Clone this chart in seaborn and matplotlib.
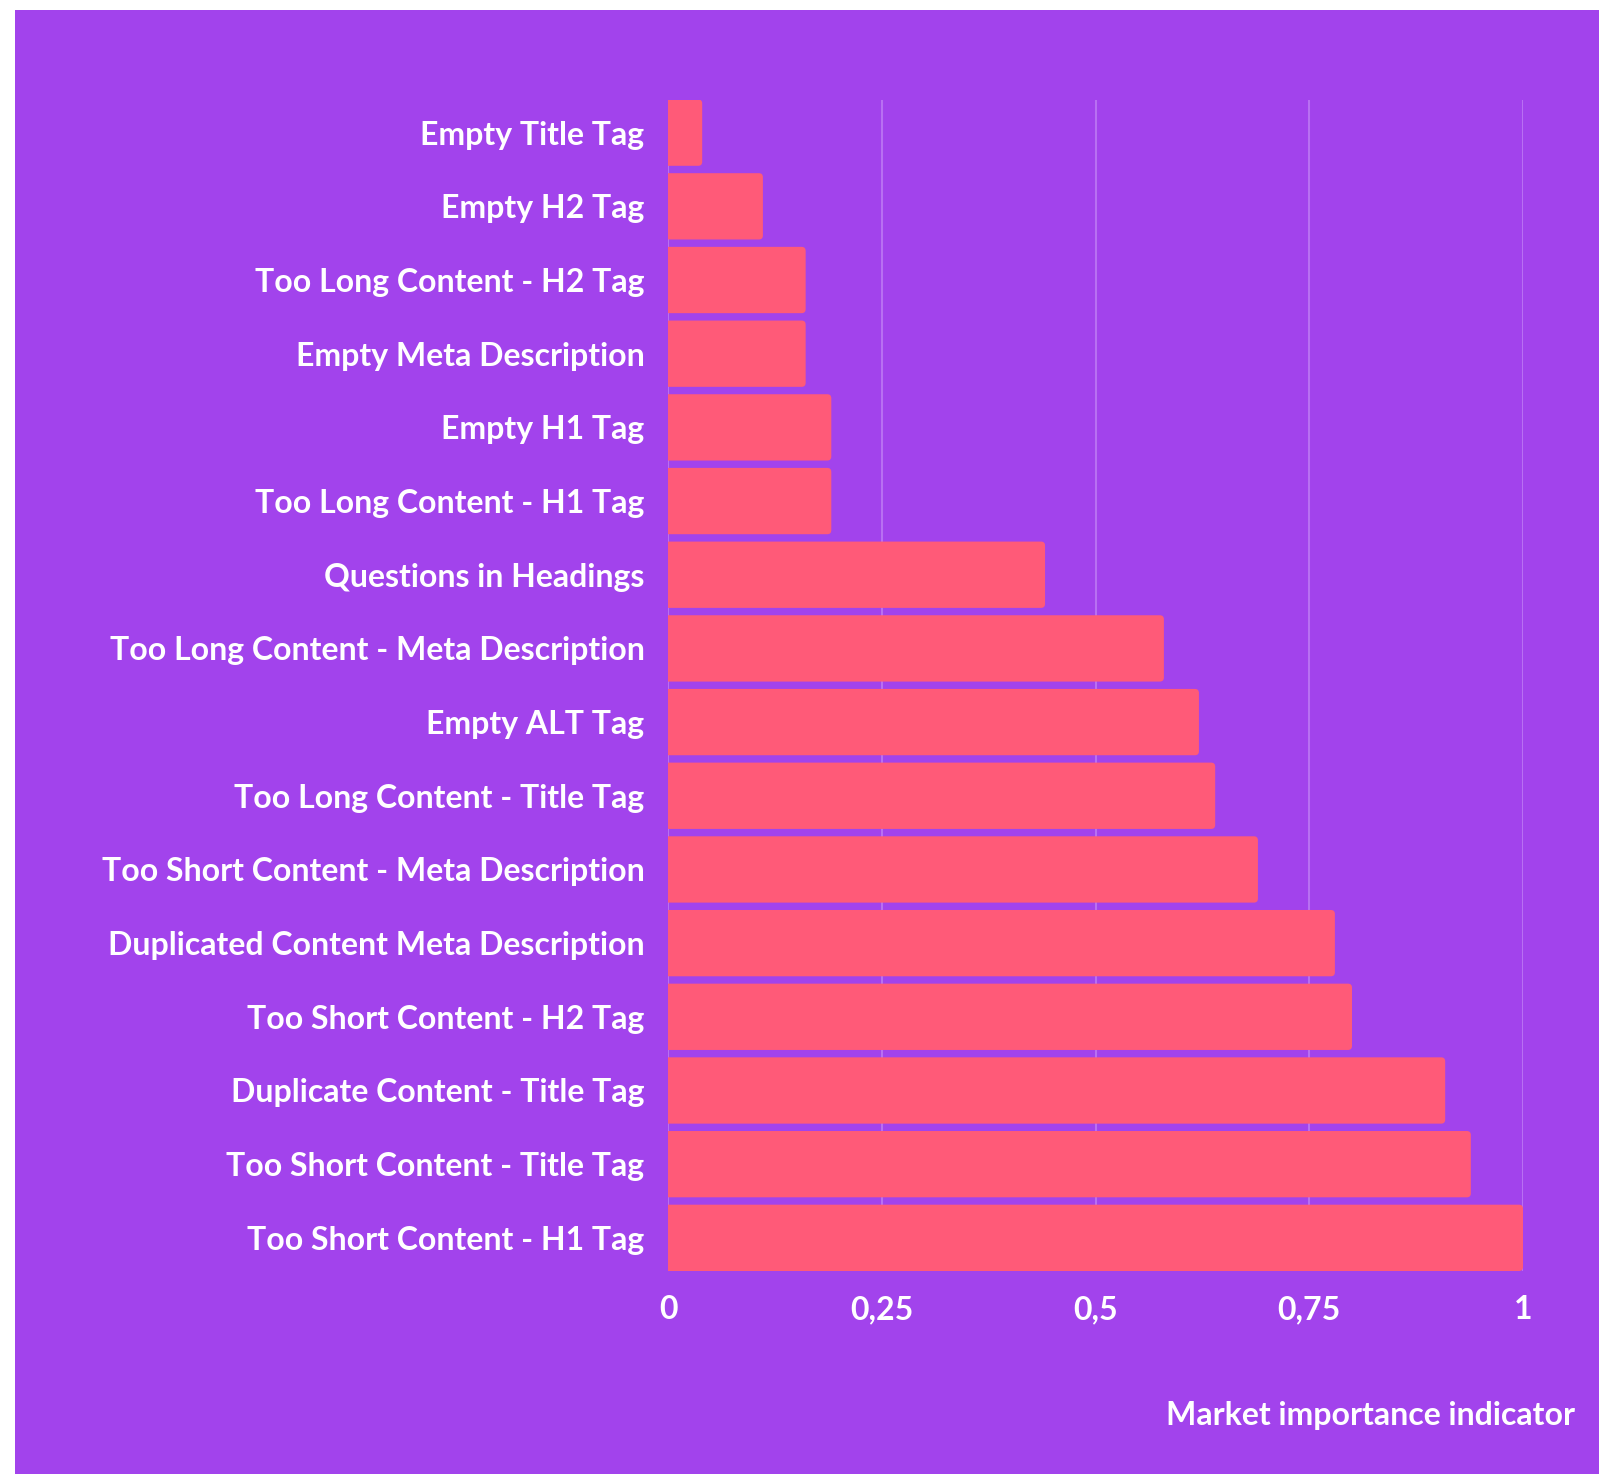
import matplotlib
matplotlib.use("Agg")
import matplotlib.pyplot as plt
import seaborn as sns
import pandas as pd
from matplotlib.patches import Rectangle, FancyBboxPatch

categories = [
    "Empty Title Tag",
    "Empty H2 Tag",
    "Too Long Content - H2 Tag",
    "Empty Meta Description",
    "Empty H1 Tag",
    "Too Long Content - H1 Tag",
    "Questions in Headings",
    "Too Long Content - Meta Description",
    "Empty ALT Tag",
    "Too Long Content - Title Tag",
    "Too Short Content - Meta Description",
    "Duplicated Content Meta Description",
    "Too Short Content - H2 Tag",
    "Duplicate Content - Title Tag",
    "Too Short Content - Title Tag",
    "Too Short Content - H1 Tag",
]
values = [0.04, 0.111, 0.161, 0.161, 0.191, 0.191, 0.441, 0.580, 0.621,
          0.640, 0.690, 0.780, 0.800, 0.909, 0.939, 1.0]
tick_values = [0, 0.25, 0.5, 0.75, 1]
tick_labels = ["0", "0,25", "0,5", "0,75", "1"]
x_title = "Market importance indicator"

PURPLE = "#A243EC"
BAR = "#FF5A78"
GRID = "#B870F2"
FS = 23

sns.set_theme(style="white")
plt.rcParams["font.family"] = ["Lato", "DejaVu Sans"]
plt.rcParams["font.weight"] = "bold"

df = pd.DataFrame({"cat": categories, "val": values})

W, H = 1599, 1474
fig = plt.figure(figsize=(W / 100, H / 100), dpi=100, facecolor="white")
fig.patches.append(Rectangle((15 / W, 0), 1 - 15 / W, 1 - 10 / H,
                             transform=fig.transFigure, facecolor=PURPLE,
                             edgecolor="none", zorder=-10))

ax_left, ax_right, ax_top, ax_bot = 668, 1523, 99.5, 1271
ax = fig.add_axes([ax_left / W, 1 - ax_bot / H, (ax_right - ax_left) / W, (ax_bot - ax_top) / H])
ax.patch.set_alpha(0)

sns.barplot(data=df, x="val", y="cat", orient="h", color=BAR, width=0.9,
            saturation=1, linewidth=0, ax=ax, zorder=3)

ax.set_xlim(0, 1)
ax.set_ylim(len(categories) - 0.55, -0.45)

# rounded right corners: replace bars with rounded boxes (left side hidden beyond axis)
px_per_x = (ax_right - ax_left) / 1.0
px_per_y = (ax_bot - ax_top) / len(categories)
r_px = 4.0
rx = r_px / px_per_x
aspect = px_per_x / px_per_y
for p in list(ax.patches):
    x0, y0, w, h = p.get_x(), p.get_y(), p.get_width(), p.get_height()
    p.remove()
    fb = FancyBboxPatch((x0 - 2 * rx, y0), w + 2 * rx, h,
                        boxstyle=f"round,pad=0,rounding_size={rx}",
                        mutation_aspect=aspect, facecolor=BAR,
                        edgecolor="none", zorder=3, clip_on=True)
    ax.add_patch(fb)

ax.set_xticks(tick_values)
ax.set_xticklabels(tick_labels, fontweight="bold")
ax.set_yticks(range(len(categories)))
ax.set_yticklabels(categories, fontweight="bold")
for v in tick_values:
    ax.axvline(v, color=GRID, lw=1.5, zorder=1)

for s in ax.spines.values():
    s.set_visible(False)
ax.tick_params(axis="both", length=0, colors="white", labelsize=FS)
ax.tick_params(axis="y", pad=17)
ax.tick_params(axis="x", pad=17.5)
ax.set_xlabel("")
ax.set_ylabel("")

fig.text(1575 / W, 1 - 1416 / H, x_title, ha="right", va="center",
         color="white", fontsize=FS, fontweight="bold")

fig.savefig("out.png", dpi=100, facecolor="white")
